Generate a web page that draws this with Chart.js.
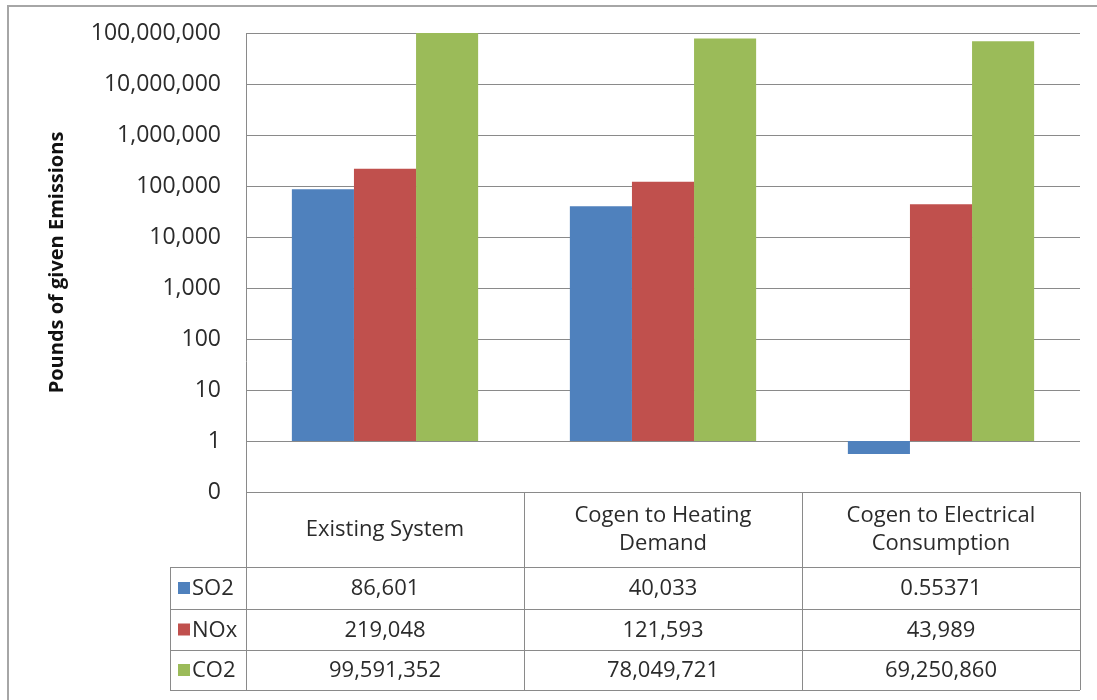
<!DOCTYPE html>
<html lang="en">
<head>
    <meta charset="utf-8">
    <title>Emissions comparison</title>
    <script src="https://cdn.jsdelivr.net/npm/chart.js"></script>
    <style>
        html, body {
            margin: 0;
            padding: 0;
            background: #fff;
        }
        .wrap {
            position: relative;
            width: 1097px;
            height: 700px;
        }
    </style>
</head>
<body>
    <div class="wrap">
        <canvas id="emChart" width="1097" height="700"></canvas>
    </div>

    <script>
        const categories = [
            ['Existing System'],
            ['Cogen to Heating', 'Demand'],
            ['Cogen to Electrical', 'Consumption']
        ];
        const seriesNames = ['SO2', 'NOx', 'CO2'];
        const so2 = [86601, 40033, 0.55371];
        const nox = [219048, 121593, 43989];
        const co2 = [99591352, 78049721, 69250860];
        const seriesColors = ['#4F81BD', '#C0504D', '#9BBB59'];
        const tickValues = [0.1, 1, 10, 100, 1000, 10000, 100000, 1000000, 10000000, 100000000];
        const tickLabels = ['0', '1', '10', '100', '1,000', '10,000', '100,000', '1,000,000', '10,000,000', '100,000,000'];

        const seriesValues = [so2, nox, co2];
        const FONT = '"Open Sans", sans-serif';
        const GRID = '#8a8a8a';
        const TEXT = '#2b2b2b';

        // data table rows under the plot
        const headerBottom = 567;
        const rowBottoms = [609, 650, 690];
        const legendLeft = 170;

        const fmt = v => v.toLocaleString('en-US', { maximumFractionDigits: 5 });

        const tablePlugin = {
            id: 'dataTable',
            afterDraw(chart) {
                const ctx = chart.ctx;
                const area = chart.chartArea;
                const x = chart.scales.x;
                const tableBottom = rowBottoms[rowBottoms.length - 1];
                const colW = (area.right - area.left) / categories.length;
                const edges = categories.map((c, i) => area.left + colW * i).concat(area.right);

                ctx.save();

                // outer frame
                ctx.strokeStyle = '#a6a6a6';
                ctx.lineWidth = 2;
                ctx.beginPath();
                ctx.moveTo(8, 700);
                ctx.lineTo(8, 6);
                ctx.lineTo(1097, 6);
                ctx.stroke();

                ctx.strokeStyle = GRID;
                ctx.lineWidth = 1;
                ctx.beginPath();
                // vertical axis running down through the table
                ctx.moveTo(Math.round(area.left) + 0.5, area.top);
                ctx.lineTo(Math.round(area.left) + 0.5, tableBottom);
                edges.slice(1).forEach(ex => {
                    ctx.moveTo(Math.round(ex) + 0.5, area.bottom);
                    ctx.lineTo(Math.round(ex) + 0.5, tableBottom);
                });
                ctx.moveTo(legendLeft + 0.5, headerBottom);
                ctx.lineTo(legendLeft + 0.5, tableBottom);
                [headerBottom].concat(rowBottoms).forEach(y => {
                    ctx.moveTo(legendLeft, y + 0.5);
                    ctx.lineTo(area.right, y + 0.5);
                });
                ctx.stroke();

                ctx.fillStyle = TEXT;
                ctx.font = '22px ' + FONT;
                ctx.textAlign = 'center';
                ctx.textBaseline = 'middle';

                // category headers
                const headMid = (area.bottom + headerBottom) / 2;
                categories.forEach((lines, i) => {
                    const cx = x.getPixelForValue(i);
                    const lh = 28;
                    lines.forEach((t, j) => {
                        ctx.fillText(t, cx, headMid + (j - (lines.length - 1) / 2) * lh);
                    });
                });

                // series rows
                let top = headerBottom;
                seriesValues.forEach((vals, s) => {
                    const mid = (top + rowBottoms[s]) / 2;
                    ctx.fillStyle = seriesColors[s];
                    ctx.fillRect(legendLeft + 8, mid - 6, 12, 12);
                    ctx.fillStyle = TEXT;
                    ctx.textAlign = 'left';
                    ctx.fillText(seriesNames[s], legendLeft + 22, mid + 1);
                    ctx.textAlign = 'center';
                    vals.forEach((v, i) => {
                        ctx.fillText(fmt(v), x.getPixelForValue(i), mid + 1);
                    });
                    top = rowBottoms[s];
                });

                ctx.restore();
            }
        };

        const ctx = document.getElementById('emChart').getContext('2d');
        new Chart(ctx, {
            type: 'bar',
            data: {
                labels: categories.map(c => c.join(' ')),
                datasets: seriesNames.map((name, s) => ({
                    label: name,
                    // bars grow from 1 so values under 1 hang below it
                    data: seriesValues[s].map(v => [1, v]),
                    backgroundColor: seriesColors[s],
                    borderWidth: 0,
                    categoryPercentage: 0.67,
                    barPercentage: 1.0
                }))
            },
            options: {
                responsive: false,
                animation: false,
                layout: {
                    padding: { left: 40, top: 33, right: 17, bottom: 208 }
                },
                plugins: {
                    legend: { display: false },
                    tooltip: { enabled: false }
                },
                scales: {
                    x: {
                        display: false
                    },
                    y: {
                        type: 'logarithmic',
                        min: 0.1,
                        max: 100000000,
                        afterBuildTicks(scale) {
                            scale.ticks = tickValues.map(v => ({ value: v }));
                        },
                        afterFit(scale) {
                            scale.width = 206;
                            // keep the plot edges fixed regardless of label height
                            scale.paddingTop = 0;
                            scale.paddingBottom = 0;
                        },
                        grid: {
                            color: GRID,
                            drawTicks: false
                        },
                        border: {
                            display: false
                        },
                        ticks: {
                            padding: 25,
                            color: TEXT,
                            font: { family: FONT, size: 23 },
                            callback: (v, i) => tickLabels[i]
                        },
                        title: {
                            display: true,
                            text: 'Pounds of given Emissions',
                            color: '#111',
                            font: { family: FONT, size: 20, weight: 'bold' },
                            padding: { top: 5, bottom: 0 }
                        }
                    }
                }
            },
            plugins: [tablePlugin]
        });
    </script>
</body>
</html>
